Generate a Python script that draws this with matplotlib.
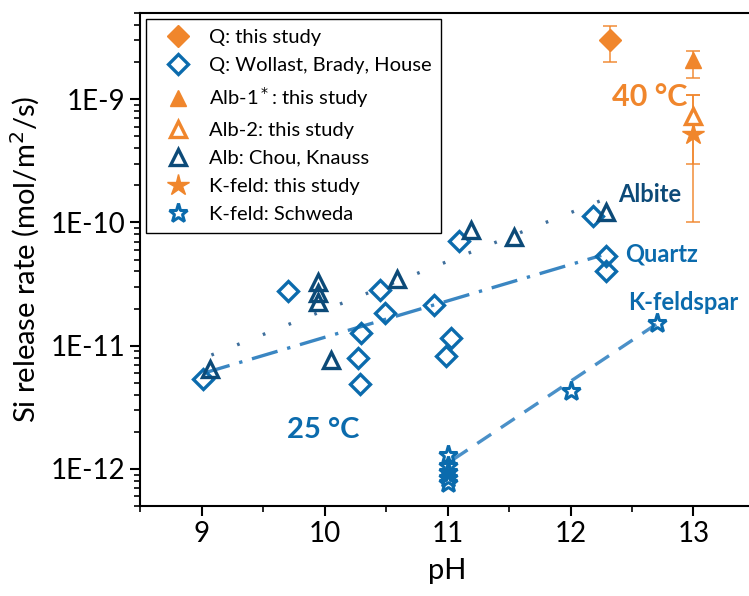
import matplotlib
matplotlib.use("Agg")
import matplotlib.pyplot as plt
from matplotlib.ticker import FixedLocator, LogLocator, NullFormatter, MultipleLocator

plt.rcParams['font.family'] = ['Lato', 'DejaVu Sans']

# ---- data ----
# quartz, this study (40 C)
q_this_ph = [12.32]
q_this_rate = [3.0e-9]
q_this_lo = [2.0e-9]
q_this_hi = [3.95e-9]

# quartz, literature (25 C)
q_lit_ph = [9.01, 9.70, 10.45, 10.49, 10.30, 10.27, 10.29, 10.89, 11.03, 10.99, 11.09, 12.18, 12.29, 12.29]
q_lit_rate = [5.4e-12, 2.8e-11, 2.85e-11, 1.85e-11, 1.26e-11, 7.9e-12, 4.9e-12,
              2.15e-11, 1.16e-11, 8.3e-12, 7.1e-11, 1.12e-10, 5.35e-11, 4.0e-11]

# albite, this study (40 C)
alb1_ph = [13.0]
alb1_rate = [2.08e-9]
alb1_lo = [1.49e-9]
alb1_hi = [2.47e-9]

alb2_ph = [13.0]
alb2_rate = [7.3e-10]
alb2_lo = [3.0e-10]
alb2_hi = [1.08e-9]

# albite, literature
alb_lit_ph = [9.07, 9.95, 9.95, 9.95, 10.05, 10.59, 11.19, 11.54, 12.29]
alb_lit_rate = [6.5e-12, 3.3e-11, 2.69e-11, 2.25e-11, 7.6e-12, 3.45e-11, 8.7e-11, 7.65e-11, 1.22e-10]

# K-feldspar, this study
kf_this_ph = [13.0]
kf_this_rate = [5.2e-10]
kf_this_lo = [1.0e-10]
kf_this_hi = [1.08e-9]

# K-feldspar, Schweda
kf_lit_ph = [11.0, 11.0, 11.0, 11.0, 11.0, 12.0, 12.7]
kf_lit_rate = [1.3e-12, 1.05e-12, 9.5e-13, 8.5e-13, 7.7e-13, 4.25e-12, 1.52e-11]

# trend lines (end points)
alb_fit_ph = [9.08, 12.28]
alb_fit_rate = [8.4e-12, 1.55e-10]
q_fit_ph = [9.02, 12.25]
q_fit_rate = [6.0e-12, 5.4e-11]
kf_fit_ph = [11.05, 12.7]
kf_fit_rate = [1.2e-12, 1.5e-11]

ORANGE = '#F0862C'
BLUE = '#0B6BAD'
NAVY = '#0C4A78'

fig = plt.figure(figsize=(7.49, 5.96), dpi=100)
ax = fig.add_axes([0.187, 0.151, 0.821, 0.827])

# trend lines
ax.plot(alb_fit_ph, alb_fit_rate, color='#3F6F9C', lw=2.4, ls=(0, (0.8, 7.5)))
ax.plot(q_fit_ph, q_fit_rate, color='#3A86C2', lw=2.4, ls=(0, (8, 3, 1, 3)))
ax.plot(kf_fit_ph, kf_fit_rate, color='#4A90C8', lw=2.4, ls=(0, (5, 3.5)))

# error bars for this study
def err(x, y, lo, hi):
    yerr = [[v - l for v, l in zip(y, lo)], [h - v for v, h in zip(y, hi)]]
    ax.errorbar(x, y, yerr=yerr, fmt='none', ecolor=ORANGE, elinewidth=1.3,
                capsize=5, capthick=1.3, alpha=0.8)

err(q_this_ph, q_this_rate, q_this_lo, q_this_hi)
err(alb1_ph, alb1_rate, alb1_lo, alb1_hi)
err(alb2_ph, alb2_rate, alb2_lo, alb2_hi)
err(kf_this_ph, kf_this_rate, kf_this_lo, kf_this_hi)

mew = 2.4
ax.plot(q_this_ph, q_this_rate, 'D', ms=11, color=ORANGE, mec=ORANGE, label='Q: this study')
ax.plot(q_lit_ph, q_lit_rate, 'D', ms=10, mfc='none', mec=BLUE, mew=mew, ls='none',
        label='Q: Wollast, Brady, House')
ax.plot(alb1_ph, alb1_rate, '^', ms=12, color=ORANGE, mec=ORANGE, label='Alb-1$^*$: this study')
ax.plot(alb2_ph, alb2_rate, '^', ms=11, mfc='white', mec=ORANGE, mew=mew, label='Alb-2: this study')
ax.plot(alb_lit_ph, alb_lit_rate, '^', ms=11, mfc='none', mec=NAVY, mew=mew, ls='none',
        label='Alb: Chou, Knauss')
ax.plot(kf_this_ph, kf_this_rate, '*', ms=16, color=ORANGE, mec=ORANGE, label='K-feld: this study')
ax.plot(kf_lit_ph, kf_lit_rate, '*', ms=14, mfc='none', mec=BLUE, mew=2.2, ls='none',
        label='K-feld: Schweda')

# labels on the plot
ax.text(12.64, 1.05e-9, '40 °C', color=ORANGE, fontsize=22, fontweight='bold', ha='center', va='center')
ax.text(9.99, 2.07e-12, '25 °C', color=BLUE, fontsize=21, fontweight='bold', ha='center', va='center')
ax.text(12.39, 1.7e-10, 'Albite', color=NAVY, fontsize=17, fontweight='bold', ha='left', va='center')
ax.text(12.44, 5.5e-11, 'Quartz', color=BLUE, fontsize=17, fontweight='bold', ha='left', va='center')
ax.text(12.47, 2.26e-11, 'K-feldspar', color=BLUE, fontsize=17, fontweight='bold', ha='left', va='center')

ax.set_yscale('log')
ax.set_xlim(8.5, 13.5)
ax.set_ylim(5e-13, 5e-9)

ax.xaxis.set_major_locator(MultipleLocator(1))
ax.xaxis.set_minor_locator(MultipleLocator(0.5))
ax.yaxis.set_major_locator(FixedLocator([1e-12, 1e-11, 1e-10, 1e-9]))
ax.yaxis.set_minor_locator(LogLocator(base=10, subs=range(2, 10), numticks=20))
ax.yaxis.set_minor_formatter(NullFormatter())
ax.set_yticklabels(['1E-12', '1E-11', '1E-10', '1E-9'])

ax.tick_params(axis='both', which='major', direction='out', length=7, width=1.5, labelsize=20)
ax.tick_params(axis='both', which='minor', direction='out', length=4, width=1.2)
for s in ax.spines.values():
    s.set_linewidth(1.5)

ax.set_xlabel('pH', fontsize=21, labelpad=8)
ax.set_ylabel('Si release rate (mol/m$^2$/s)', fontsize=21, labelpad=6)

leg = ax.legend(loc='upper left', fontsize=14.5, frameon=True, fancybox=False,
                edgecolor='black', framealpha=1, handlelength=2.2, handletextpad=0.4,
                labelspacing=0.55, borderpad=0.5, borderaxespad=0.3, numpoints=1)
leg.get_frame().set_linewidth(1.0)

fig.savefig('out.png', dpi=100)
